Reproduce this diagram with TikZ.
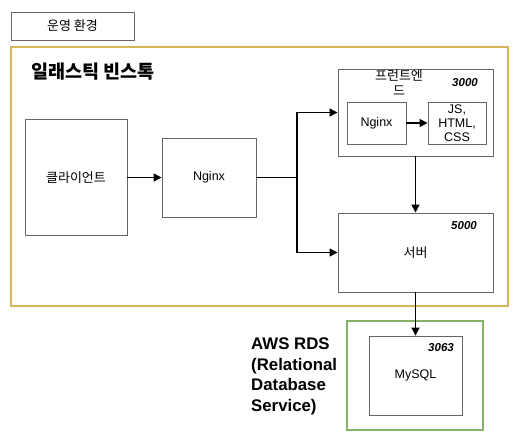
\documentclass[tikz,border=0pt]{standalone}
\usepackage{fontspec}
\setmainfont{Liberation Sans}
\newfontfamily\kr{Noto Sans CJK KR}
\usetikzlibrary{arrows.meta}
\definecolor{goldc}{HTML}{D6B656}
\definecolor{greenc}{HTML}{82B366}
\definecolor{boxc}{HTML}{666666}
\begin{document}
\begin{tikzpicture}[x=1pt,y=-1pt,
  box/.style={draw=boxc,line width=0.9pt,fill=white,inner sep=0pt,font=\fontsize{12.5}{14}\selectfont,align=center},
  kt/.style={font=\fontsize{13}{15}\selectfont\kr},
  arr/.style={draw=black,line width=1.4pt,-{Triangle[length=8pt,width=8pt]}},
  port/.style={font=\fontsize{11.5}{13}\selectfont\bfseries\itshape,inner sep=0pt},
  big/.style={font=\fontsize{16.8}{20.7}\selectfont\bfseries,inner sep=0pt}]
\useasboundingbox (0,0) rectangle (517,442);
% environment label
\node[box,kt,minimum width=123pt,minimum height=28pt] (env) at (72.5,26) {운영 환경};
% elastic beanstalk
\node[draw=goldc,line width=2.2pt,minimum width=497pt,minimum height=259pt,inner sep=0pt] (eb) at (259.5,176.5) {};
\node[inner sep=0pt,anchor=west,font=\fontsize{18.5}{20}\selectfont\bfseries\kr] (ebt) at (31,72) {일래스틱 빈스톡};
% client
\node[box,kt,minimum width=102pt,minimum height=116pt] (cl) at (76,177.5) {클라이언트};
% nginx
\node[box,minimum width=94pt,minimum height=79pt] (ng) at (209,177.5) {\raisebox{-1.5pt}{Nginx}};
% frontend
\node[box,minimum width=155pt,minimum height=87pt] (fe) at (415.5,112.5) {};
\node[inner sep=0pt,align=center,font=\fontsize{13}{14.5}\selectfont\kr] (fet) at (399,82.5) {프런트엔\\드};
\node[port] (p3000) at (465,83) {3000};
\node[box,minimum width=59pt,minimum height=42pt] (fng) at (376.5,123) {\raisebox{-1.5pt}{Nginx}};
\node[box,minimum width=58pt,minimum height=42pt,font=\fontsize{12.5}{14}\selectfont] (js) at (457,123) {JS,\\HTML,\\CSS};
% server
\node[box,kt,minimum width=155pt,minimum height=79pt] (sv) at (415.5,252.5) {서버};
\node[port] (p5000) at (464,226) {5000};
% RDS
\node[draw=greenc,line width=2.2pt,minimum width=136pt,minimum height=109pt,inner sep=0pt] (rds) at (415,375.5) {};
\node[box,minimum width=93pt,minimum height=79pt] (db) at (415.5,375.5) {\raisebox{-1.5pt}{MySQL}};
\node[port] (p3063) at (441,348) {3063};
\node[big,anchor=north west,align=left] (rdst) at (251,337.5) {AWS RDS\\(Relational\\Database\\Service)};
% connectors
\coordinate (br) at (297,177.5);
\draw[arr] (cl.east) -- (ng.west);
\draw[line width=1.4pt] (ng.east) -- (br);
\draw[arr] (br) |- (fe.west);
\draw[arr] (br) |- (sv.west);
\draw[arr] (fng.east) -- (js.west);
\draw[arr] (fe.south) -- (sv.north);
\draw[arr] (sv.south) -- (db.north);
\end{tikzpicture}
\end{document}
